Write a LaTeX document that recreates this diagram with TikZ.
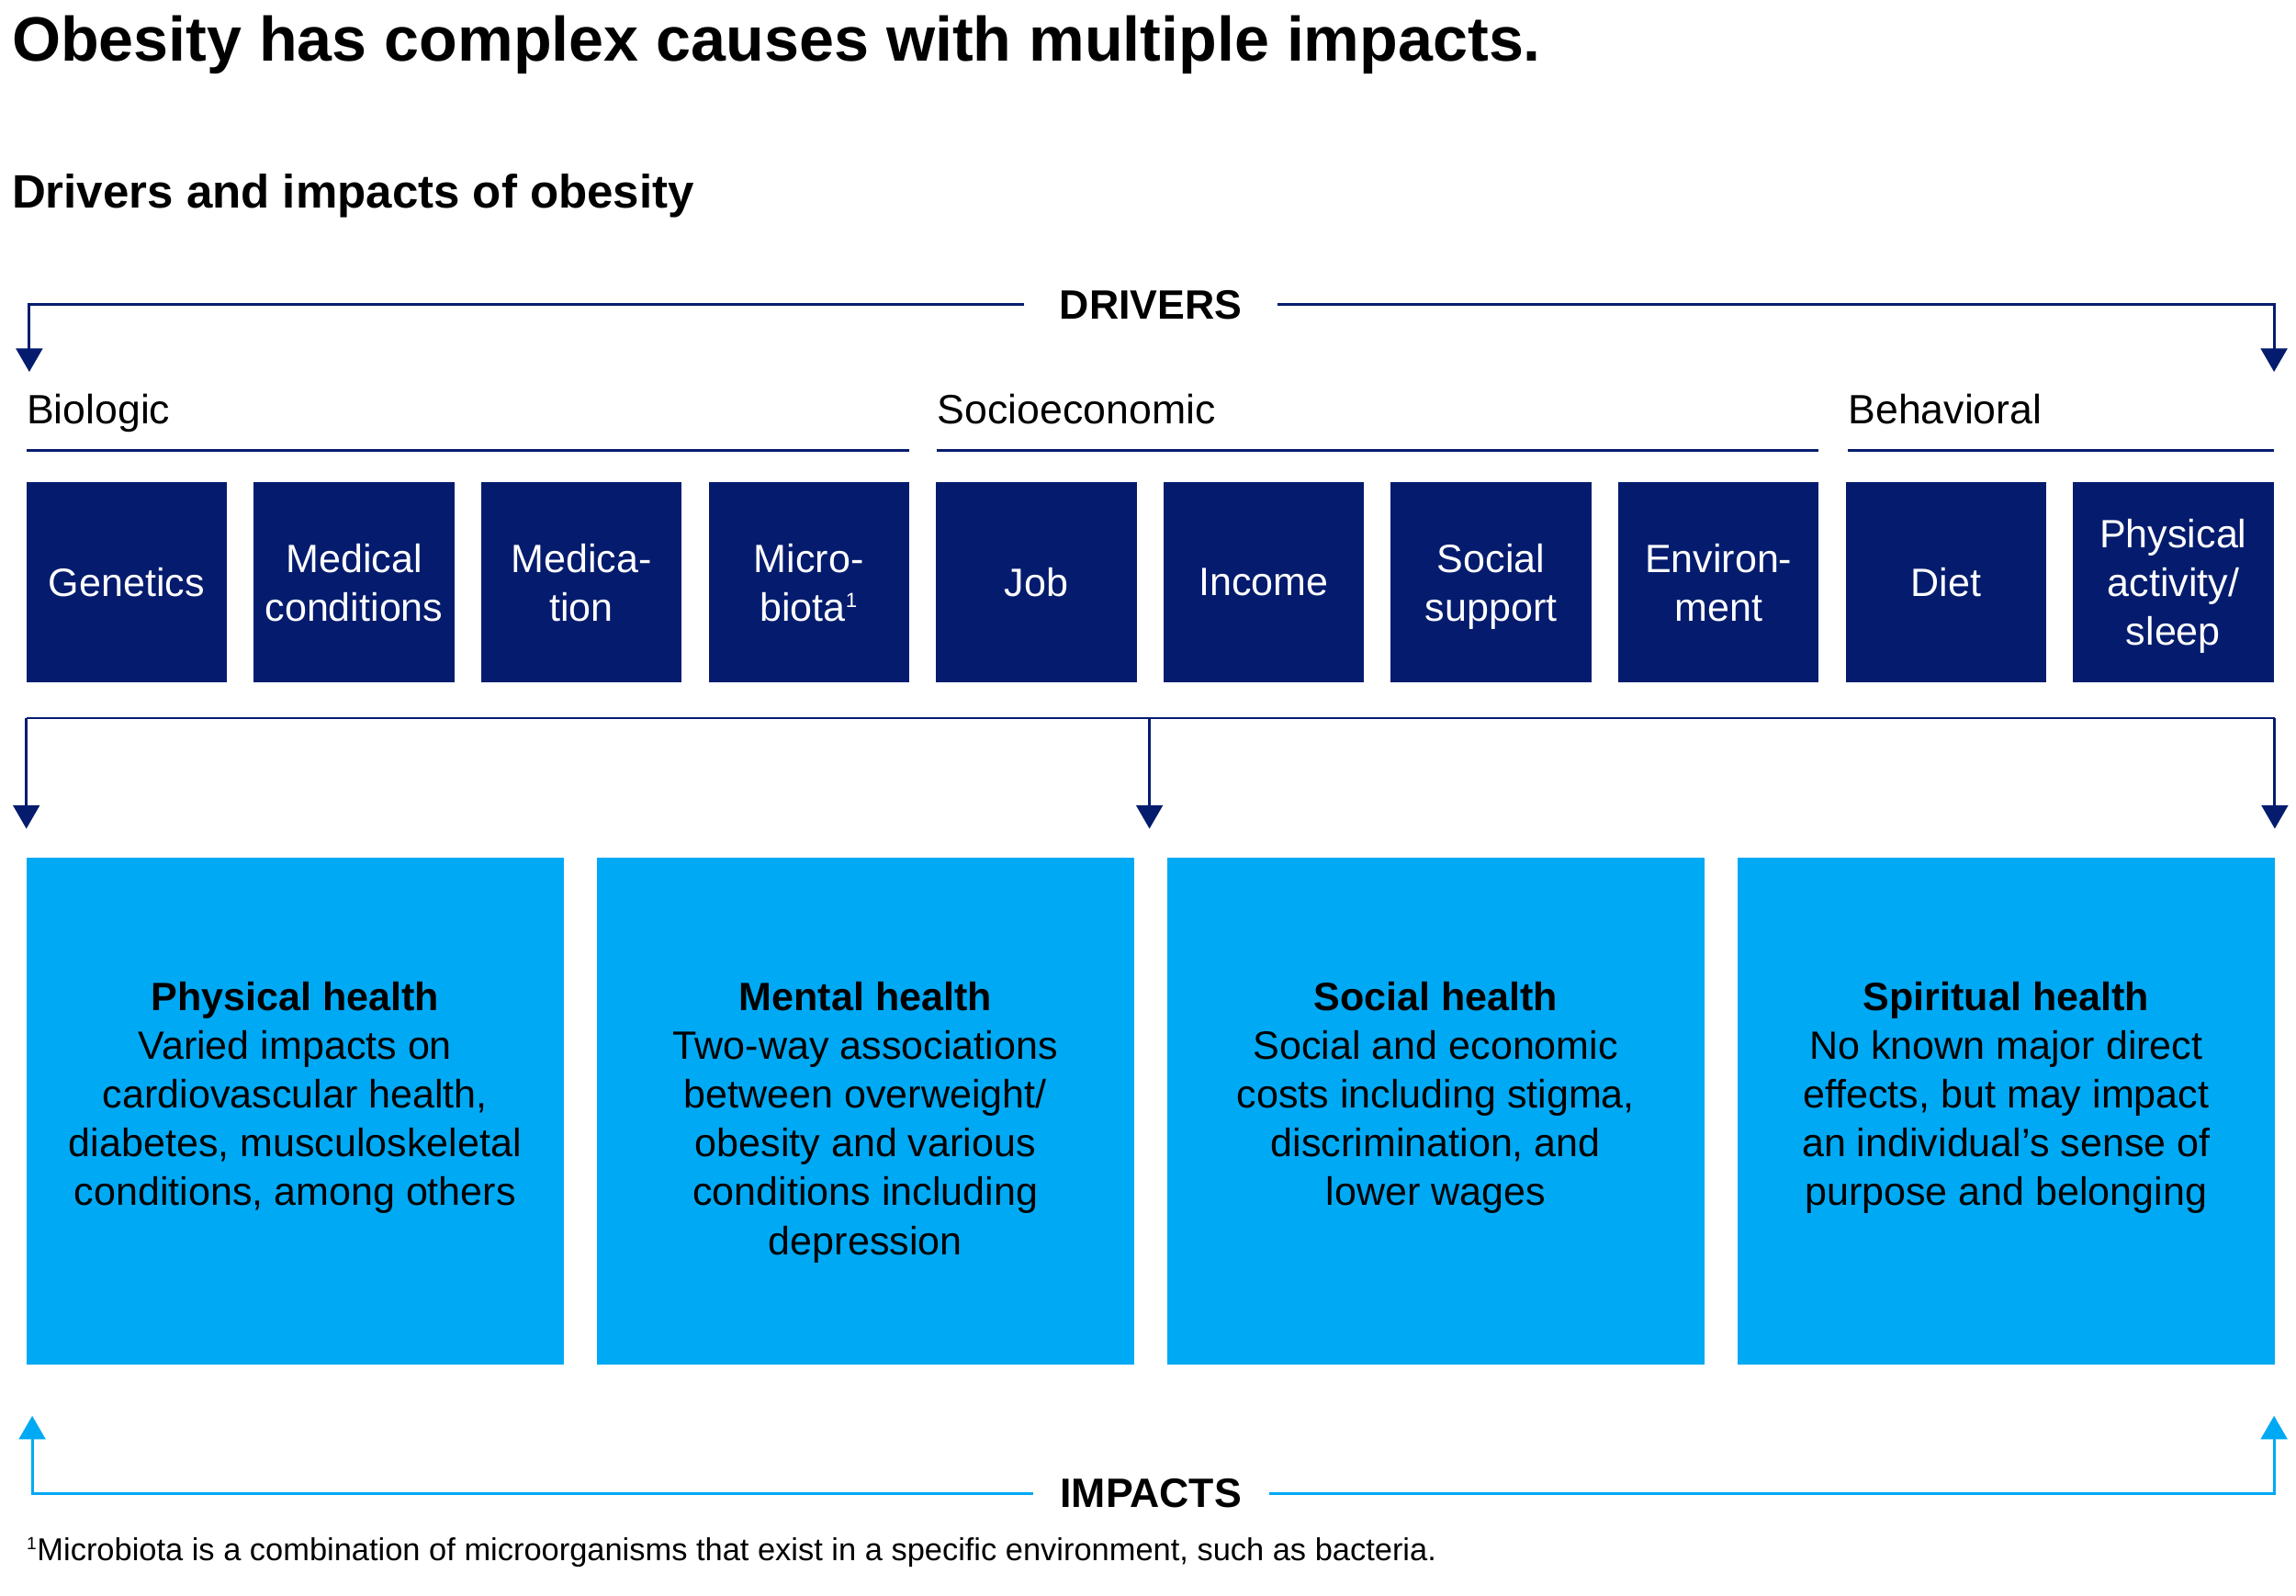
\documentclass[tikz,border=0pt]{standalone}
\usepackage{fontspec}
\setmainfont{Liberation Sans}
\usepackage{xcolor}
\usetikzlibrary{arrows.meta, positioning}
\definecolor{drvblue}{HTML}{051C6E}
\definecolor{impblue}{HTML}{00A9F4}
\newcommand{\notemark}[1]{\textsuperscript{\fontsize{#1}{#1}\selectfont 1}}
\tikzset{
driver box/.style = { rectangle, fill = drvblue, text = white, minimum width = 137pt, minimum height = 137pt, inner sep = 0pt, align = center, text depth = 0pt, font = \fontsize{27}{33.3}\selectfont },
impact box/.style = { rectangle, fill = impblue, minimum width = 367pt, minimum height = 346pt, inner sep = 0pt },
impact text/.style = { anchor = north, inner sep = 0pt, align = center, font = \fontsize{27}{33.3}\selectfont },
group label/.style = { anchor = base west, inner sep = 0pt, font = \fontsize{28}{33}\selectfont },
flow header/.style = { inner ysep = 0pt, inner xsep = 24pt, font = \bfseries\fontsize{28}{34}\selectfont },
drv line/.style = { draw = drvblue, line width = 1.8pt },
drv arrow/.style = { drv line, -{Triangle[length = 16pt, width = 18pt]} },
imp arrow/.style = { draw = impblue, line width = 1.8pt, -{Triangle[length = 16pt, width = 18pt]} },
}
\begin{document}
\begin{tikzpicture}[x = 1pt, y = -1pt]
    \useasboundingbox (0, 0) rectangle (1568, 1090);
    \node[anchor = base west, inner sep = 0pt, font = \bfseries\fontsize{42.8}{50}\selectfont] (title) at (8, 42) {Obesity has complex causes with multiple impacts.};
    \node[anchor = base west, inner sep = 0pt, font = \bfseries\fontsize{32}{38}\selectfont] (subtitle) at (8, 142) {Drivers and impacts of obesity};
    % drivers
    \node[flow header] (drivers) at (786, 208) {DRIVERS};
    \coordinate (drv left) at (20, 254);
    \coordinate (drv right) at (1553, 254);
    \draw[drv arrow] (drivers.west) -| (drv left);
    \draw[drv arrow] (drivers.east) -| (drv right);
    \node[group label] (biologic) at (18, 289.6) {Biologic};
    \node[group label] (socioeconomic) at (640, 289.6) {Socioeconomic};
    \node[group label] (behavioral) at (1262, 289.6) {Behavioral};
    \draw[drv line] (18, 307.7) -- (621, 307.7);
    \draw[drv line] (640, 307.7) -- (1242, 307.7);
    \draw[drv line] (1262, 307.7) -- (1553, 307.7);
    \node[driver box] (genetics) at (86.5, 397.7) {Genetics};
    \node[driver box] (medical) at (241.8, 397.7) {Medical\\conditions};
    \node[driver box] (medication) at (397.1, 397.7) {Medica-\\tion};
    \node[driver box] (microbiota) at (552.4, 397.7) {Micro-\\biota\notemark{14}};
    \node[driver box] (job) at (707.7, 397.7) {Job};
    \node[driver box] (income) at (863, 397.7) {Income};
    \node[driver box] (social support) at (1018.3, 397.7) {Social\\support};
    \node[driver box] (environment) at (1173.6, 397.7) {Environ-\\ment};
    \node[driver box] (diet) at (1328.9, 397.7) {Diet};
    \node[driver box] (activity) at (1484.2, 397.7) {Physical\\activity/\\sleep};
    % split to impacts
    \coordinate (split left) at (18, 490.5);
    \coordinate (split mid) at (785, 490.5);
    \coordinate (split right) at (1553.5, 490.5);
    \coordinate (tip left) at (18, 566);
    \coordinate (tip mid) at (785, 566);
    \coordinate (tip right) at (1553.5, 566);
    \draw[drv line] (split left) -- (split right);
    \draw[drv arrow] (split left) -- (tip left);
    \draw[drv arrow] (split mid) -- (tip mid);
    \draw[drv arrow] (split right) -- (tip right);
    % impacts
    \node[impact box] (physical) at (201.5, 759) {};
    \node[impact box] (mental) at (591, 759) {};
    \node[impact box] (social) at (980.5, 759) {};
    \node[impact box] (spiritual) at (1370, 759) {};
    \node[impact text] (physical text) at (201.5, 670.5) {\textbf{Physical health}\\Varied impacts on\\cardiovascular health,\\diabetes, musculoskeletal\\conditions, among others};
    \node[impact text] (mental text) at (591, 670.5) {\textbf{Mental health}\\Two-way associations\\between overweight/\\obesity and various\\conditions including\\depression};
    \node[impact text] (social text) at (980.5, 670.5) {\textbf{Social health}\\Social and economic\\costs including stigma,\\discrimination, and\\lower wages};
    \node[impact text] (spiritual text) at (1370, 670.5) {\textbf{Spiritual health}\\No known major direct\\effects, but may impact\\an individual’s sense of\\purpose and belonging};
    \node[flow header, inner xsep = 18.5pt] (impacts) at (786, 1020) {IMPACTS};
    \coordinate (imp left) at (22, 967);
    \coordinate (imp right) at (1553, 967);
    \draw[imp arrow] (impacts.west) -| (imp left);
    \draw[imp arrow] (impacts.east) -| (imp right);
    \node[anchor = base west, inner sep = 0pt, font = \fontsize{21.6}{26}\selectfont] (footnote) at (18, 1066) {\notemark{12}Microbiota is a combination of microorganisms that exist in a specific environment, such as bacteria.};
\end{tikzpicture}
\end{document}
